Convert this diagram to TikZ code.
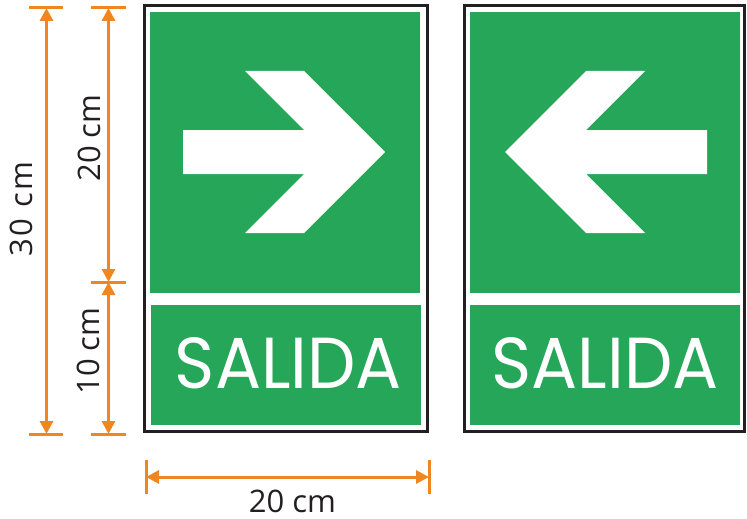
\documentclass[tikz,border=0pt]{standalone}
\usepackage{fontspec}
\setmainfont{Open Sans}
\newfontfamily\signfont{Poppins}
\usetikzlibrary{arrows.meta}
\definecolor{signgreen}{RGB}{37,166,89}
\definecolor{dimorange}{RGB}{240,134,32}
\definecolor{framegray}{RGB}{35,31,32}
\begin{document}
\begin{tikzpicture}[x=1pt,y=-1pt,
  signframe/.style={draw=framegray,line width=3pt,fill=white},
  panel/.style={fill=signgreen},
  dimline/.style={draw=dimorange,line width=3pt,{Triangle[width=13pt,length=13pt]}-{Triangle[width=13pt,length=13pt]}},
  dimtick/.style={draw=dimorange,line width=3pt},
  dimlabel/.style={font=\fontsize{31}{31}\selectfont,text=framegray,inner sep=0pt},
  saltext/.style={text=white,inner sep=0pt}]
\useasboundingbox (0,0) rectangle (747,519);

% left sign
\draw[signframe] (144.5,5.5) rectangle (427,431);
\fill[panel] (150,12) rectangle (420,293);
\fill[panel] (151,305) rectangle (421,425);
\fill[white] (183,130) -- (304,130) -- (245,71) -- (304,71) -- (385,152)
  -- (304,233) -- (245,233) -- (304,174) -- (183,174) -- cycle;
\node[saltext] (salL) at (288.5,363.5) {\resizebox{227pt}{51pt}{\signfont SALIDA}};

% right sign
\draw[signframe] (464,5.5) rectangle (744,431);
\fill[panel] (470,12) rectangle (740,293);
\fill[panel] (470,305) rectangle (740,425);
\fill[white] (707,130) -- (586,130) -- (645,71) -- (586,71) -- (505,152)
  -- (586,233) -- (645,233) -- (586,174) -- (707,174) -- cycle;
\node[saltext] (salR) at (605,363.5) {\resizebox{227pt}{51pt}{\signfont SALIDA}};

% 30 cm dimension
\coordinate (h30t) at (46.5,8);
\coordinate (h30b) at (46.5,434);
\draw[dimtick] (29,8) -- (63,8);
\draw[dimtick] (29,434) -- (63,434);
\draw[dimline] (h30t) -- (h30b);
\node[dimlabel,rotate=90] (l30) at (21.5,209) {\addfontfeature{LetterSpace=8}30 cm};

% 20 / 10 cm dimensions
\coordinate (h20t) at (108.5,8);
\coordinate (h20m) at (108.5,282);
\coordinate (h10b) at (108.5,434);
\draw[dimtick] (91,8) -- (126,8);
\draw[dimtick] (91,282) -- (126,282);
\draw[dimtick] (91,434) -- (126,434);
\draw[dimline] (h20t) -- (h20m);
\draw[dimline] (h20m) -- (h10b);
\node[dimlabel,rotate=90] (l20v) at (89.5,138) {20 cm};
\node[dimlabel,rotate=90] (l10) at (88.5,351) {10 cm};

% bottom 20 cm dimension
\coordinate (wL) at (146,477);
\coordinate (wR) at (429,477);
\draw[dimtick] (146,460) -- (146,494);
\draw[dimtick] (429,460) -- (429,494);
\draw[dimline] (wL) -- (wR);
\node[dimlabel] (l20h) at (292.5,501.5) {20 cm};
\end{tikzpicture}
\end{document}
